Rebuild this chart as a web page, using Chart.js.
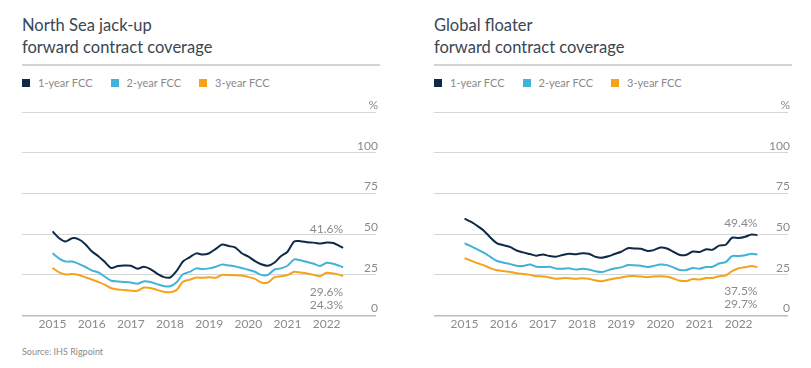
<!DOCTYPE html>
<html>
<head>
<meta charset="utf-8">
<script src="https://cdn.jsdelivr.net/npm/chart.js@4.4.1/dist/chart.umd.min.js"></script>
<style>
  body { margin: 0; background: #fff; font-family: Lato, "Open Sans", sans-serif; }
  .panel { position: absolute; top: 0; width: 358px; height: 368px; }
  .title {
    position: absolute; left: 0; top: 14px; width: 358px;
    font-size: 16.5px; line-height: 22px; color: #3a4652;
    padding-bottom: 6px; border-bottom: 2px solid #d4d4d4;
  }
  .legend { position: absolute; left: 0; top: 76px; display: flex; font-size: 11px; color: #8a8a8a; }
  .legend span { display: flex; align-items: center; margin-right: 18px; }
  .legend i { display: inline-block; width: 8px; height: 8px; margin-right: 8px; }
  .canvasBox { position: absolute; left: 0; top: 95px; width: 358px; height: 237px; }
  .source { position: absolute; left: 22px; top: 346px; font-size: 9px; color: #8a8a8a; }
</style>
</head>
<body>

<div class="panel" style="left:22px">
  <div class="title">North Sea jack-up<br>forward contract coverage</div>
  <div class="legend" id="legendNS"></div>
  <div class="canvasBox"><canvas id="chartNS"></canvas></div>
</div>

<div class="panel" style="left:434px">
  <div class="title">Global floater<br>forward contract coverage</div>
  <div class="legend" id="legendGF"></div>
  <div class="canvasBox"><canvas id="chartGF"></canvas></div>
</div>

<div class="source">Source: IHS Rigpoint</div>

<script>
/* ---------- DATA ---------- */
const seriesNames = ["1-year FCC", "2-year FCC", "3-year FCC"];
const seriesColors = ["#0e2a47", "#41b3d9", "#f5a31a"];
const yearTicks = [2015, 2016, 2017, 2018, 2019, 2020, 2021, 2022];
const yTicks = [0, 25, 50, 75, 100, 125];

// North Sea jack-up (time in decimal years)
const nsTime = [
  2015.00, 2015.17, 2015.33, 2015.50, 2015.67, 2015.83,
  2016.00, 2016.17, 2016.33, 2016.50, 2016.67, 2016.83,
  2017.00, 2017.17, 2017.33, 2017.50, 2017.67, 2017.83,
  2018.00, 2018.17, 2018.33, 2018.50, 2018.67, 2018.83,
  2019.00, 2019.17, 2019.33, 2019.50, 2019.67, 2019.83,
  2020.00, 2020.17, 2020.33, 2020.50, 2020.67, 2020.83,
  2021.00, 2021.17, 2021.33, 2021.50, 2021.67, 2021.83,
  2022.00, 2022.17, 2022.33, 2022.42
];
const nsOneYear = [
  51.7, 47.5, 45.5, 47.5, 46.8, 44.0,
  39.5, 36.5, 33.0, 29.2, 30.5, 30.7,
  30.6, 28.8, 30.0, 28.6, 25.8, 23.8,
  23.4, 27.5, 33.2, 35.8, 38.2, 37.5,
  38.3, 41.0, 43.6, 42.7, 41.8, 38.3,
  36.2, 33.5, 31.5, 30.6, 32.6, 36.5,
  39.2, 45.5, 45.7, 45.1, 44.8, 44.2,
  44.9, 44.6, 42.7, 41.6
];
const nsTwoYear = [
  38.3, 35.0, 33.2, 33.2, 31.8, 30.0,
  27.8, 26.5, 24.0, 21.4, 21.0, 20.7,
  20.3, 19.6, 21.0, 20.6, 19.3, 18.2,
  18.0, 20.5, 25.4, 26.8, 29.0, 28.5,
  29.0, 30.0, 31.3, 30.8, 30.2, 29.2,
  28.2, 26.9, 25.0, 25.0, 28.3, 29.0,
  30.6, 34.5, 34.0, 32.9, 31.8, 30.4,
  32.4, 31.8, 30.5, 29.6
];
const nsThreeYear = [
  29.3, 26.5, 25.3, 25.6, 24.9, 23.6,
  22.2, 20.6, 19.0, 16.8, 16.0, 15.7,
  15.3, 15.2, 17.2, 17.0, 15.8, 14.7,
  14.3, 15.8, 20.8, 22.0, 23.4, 23.2,
  23.5, 23.3, 25.0, 24.9, 24.8, 24.6,
  23.7, 22.5, 20.3, 20.3, 23.6, 24.2,
  24.9, 26.9, 26.4, 25.8, 25.0, 24.2,
  26.3, 25.8, 25.0, 24.3
];

// Global floater
const gfTime = [
  2015.00, 2015.17, 2015.33, 2015.50, 2015.67, 2015.83,
  2016.00, 2016.17, 2016.33, 2016.50, 2016.67, 2016.83,
  2017.00, 2017.17, 2017.33, 2017.50, 2017.67, 2017.83,
  2018.00, 2018.17, 2018.33, 2018.50, 2018.67, 2018.83,
  2019.00, 2019.17, 2019.33, 2019.50, 2019.67, 2019.83,
  2020.00, 2020.17, 2020.33, 2020.50, 2020.67, 2020.83,
  2021.00, 2021.17, 2021.33, 2021.50, 2021.67, 2021.83,
  2022.00, 2022.17, 2022.33, 2022.48
];
const gfOneYear = [
  59.5, 57.5, 55.0, 52.0, 47.7, 44.4,
  43.2, 42.0, 40.0, 38.8, 37.8, 36.8,
  37.5, 36.6, 36.2, 37.2, 38.0, 37.6,
  38.3, 38.0, 36.2, 35.5, 36.4, 37.8,
  39.2, 41.4, 41.2, 41.0, 39.7, 40.2,
  41.8, 41.2, 39.2, 37.2, 37.4, 39.4,
  39.0, 40.7, 40.4, 43.0, 43.5, 47.8,
  47.6, 48.4, 49.8, 49.4
];
const gfTwoYear = [
  44.3, 42.5, 40.6, 38.5, 35.9, 33.5,
  32.5, 31.6, 30.6, 30.5, 31.4, 30.0,
  29.8, 30.0, 28.9, 28.8, 29.1, 28.3,
  28.7, 28.3, 27.3, 26.7, 27.9, 28.9,
  29.6, 31.0, 30.9, 30.6, 29.8, 30.5,
  31.4, 31.0, 29.6, 28.0, 28.0, 29.2,
  28.8, 29.8, 30.0, 32.0, 32.8, 36.5,
  36.6, 37.1, 38.0, 37.5
];
const gfThreeYear = [
  35.3, 33.7, 32.2, 30.8, 29.0, 27.9,
  27.3, 26.8, 26.0, 25.5, 25.0, 24.2,
  24.0, 23.4, 22.6, 23.0, 23.0, 22.6,
  22.9, 22.6, 21.7, 21.1, 22.0, 22.8,
  23.4, 24.2, 24.3, 24.0, 23.6, 24.0,
  24.2, 23.8, 22.8, 21.4, 21.3, 22.5,
  22.2, 23.1, 23.1, 24.2, 24.6, 27.3,
  29.1, 29.7, 30.4, 29.7
];

/* ---------- END LABELS PLUGIN ---------- */
// writes the last value of each series at the right end of the lines
const endLabels = {
  id: "endLabels",
  afterDatasetsDraw(chart, args, opts) {
    const ctx = chart.ctx;
    const xs = chart.scales.x;
    const ys = chart.scales.y;
    ctx.save();
    ctx.font = "12px Lato";
    ctx.fillStyle = "#8a8a8a";
    ctx.textAlign = "right";
    ctx.textBaseline = "middle";
    chart.data.datasets.forEach((ds, i) => {
      const last = ds.data[ds.data.length - 1];
      const x = xs.getPixelForValue(last.x);
      const y = ys.getPixelForValue(opts.spots[i]);
      ctx.fillText(last.y.toFixed(1) + "%", x, y);
    });
    ctx.restore();
  }
};

/* ---------- BUILD ---------- */
function makeLegend(id) {
  const el = document.getElementById(id);
  seriesNames.forEach((name, i) => {
    el.innerHTML += `<span><i style="background:${seriesColors[i]}"></i>${name}</span>`;
  });
}

function makeChart(id, time, series, spots) {
  return new Chart(document.getElementById(id), {
    type: "line",
    data: {
      datasets: series.map((vals, i) => ({
        label: seriesNames[i],
        data: vals.map((v, k) => ({ x: time[k], y: v })),
        borderColor: seriesColors[i],
        borderWidth: 2,
        pointRadius: 0,
        tension: 0.25,
        fill: false
      }))
    },
    options: {
      responsive: true,
      maintainAspectRatio: false,
      animation: false,
      layout: { padding: { top: 17, left: 0, right: 0, bottom: 0 } },
      plugins: {
        legend: { display: false },
        tooltip: { enabled: false },
        endLabels: { spots: spots }
      },
      scales: {
        x: {
          type: "linear",
          min: 2014.22,
          max: 2023.26,
          afterBuildTicks: axis => { axis.ticks = yearTicks.map(v => ({ value: v })); },
          grid: { display: false, drawTicks: false },
          border: { display: false },
          ticks: {
            color: "#8a8a8a",
            font: { family: "Lato", size: 12 },
            padding: 1,
            maxRotation: 0,
            callback: v => String(v)
          }
        },
        y: {
          position: "right",
          min: 0,
          max: 125,
          afterBuildTicks: axis => { axis.ticks = yTicks.map(v => ({ value: v })); },
          grid: {
            color: ctx => ctx.tick && ctx.tick.value === 0 ? "#bcbcbc" : "#d6d6d6",
            lineWidth: ctx => ctx.tick && ctx.tick.value === 0 ? 1.5 : 1,
            drawTicks: false
          },
          border: { display: false },
          ticks: {
            mirror: true,
            padding: 2,
            labelOffset: -7,
            color: "#8a8a8a",
            font: { family: "Lato", size: 12 },
            callback: v => (v === 125 ? "%" : v)
          }
        }
      }
    },
    plugins: [endLabels]
  });
}

makeLegend("legendNS");
makeLegend("legendGF");

makeChart("chartNS", nsTime, [nsOneYear, nsTwoYear, nsThreeYear], [53.3, 14.5, 6.6]);
makeChart("chartGF", gfTime, [gfOneYear, gfTwoYear, gfThreeYear], [56.9, 14.9, 7.0]);
</script>
</body>
</html>
